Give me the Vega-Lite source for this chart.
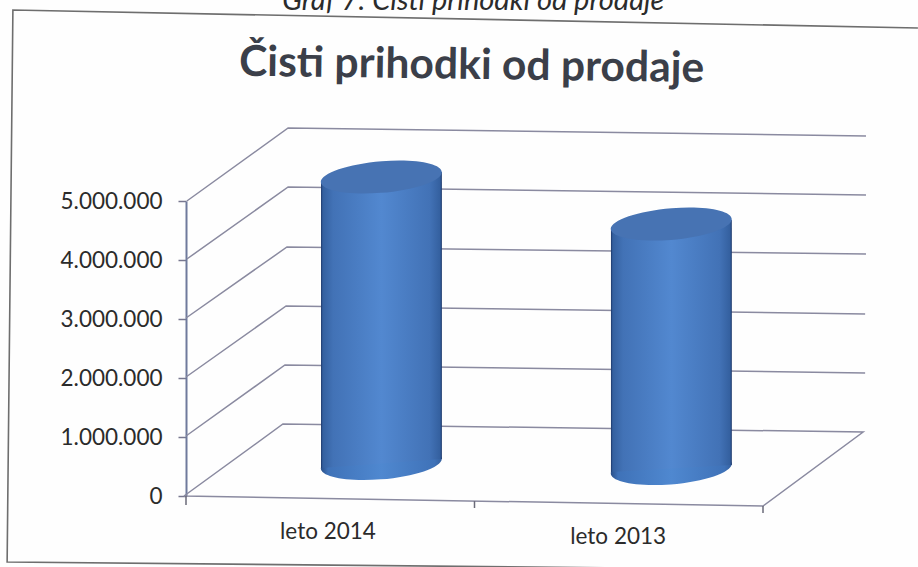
{
"$schema":"https://vega.github.io/schema/vega-lite/v6.json",
"width":577,"height":295,
"autosize":"none",
"padding":{"left":186,"top":201,"right":155,"bottom":71},
"background":"#fefefe",
"view":{"stroke":null},
"title":{"text":"Čisti prihodki od prodaje","font":"Lato","fontWeight":"bold","fontSize":42.6,"color":"#3b3f49","anchor":"middle","dx":-3,"offset":-141,"baseline":"alphabetic","angle":0.8},
"datasets":{
"crte":[
{"crta":"okvir","n":1,"x":2.537,"v":7932000},{"crta":"okvir","n":2,"x":-0.6,"v":8237000},{"crta":"okvir","n":3,"x":-0.62,"v":-1118600},{"crta":"okvir","n":4,"x":1.522,"v":-1220300}
],
"mreza":[
{"crta":"5M","n":1,"x":0.003,"v":5000000},{"crta":"5M","n":2,"x":0.354,"v":6237200},{"crta":"5M","n":3,"x":2.357,"v":6101600},
{"crta":"4M","n":1,"x":0.003,"v":4016900},{"crta":"4M","n":2,"x":0.354,"v":5237200},{"crta":"4M","n":3,"x":2.357,"v":5101600},
{"crta":"3M","n":1,"x":0,"v":3016900},{"crta":"3M","n":2,"x":0.35,"v":4220300},{"crta":"3M","n":3,"x":2.357,"v":4101700},
{"crta":"2M","n":1,"x":0,"v":2016900},{"crta":"2M","n":2,"x":0.347,"v":3220300},{"crta":"2M","n":3,"x":2.354,"v":3084700},
{"crta":"1M","n":1,"x":0,"v":1016900},{"crta":"1M","n":2,"x":0.343,"v":2220300},{"crta":"1M","n":3,"x":2.354,"v":2084700},
{"crta":"0","n":1,"x":-0.007,"v":0},{"crta":"0","n":2,"x":0.336,"v":1220300},{"crta":"0","n":3,"x":2.347,"v":1084700},{"crta":"0","n":4,"x":2,"v":-169500},{"crta":"0","n":5,"x":-0.007,"v":0}
],
"oznake":[
{"x":0,"v":0,"v2":-152500},{"x":1,"v":-84700,"v2":-203400},{"x":2,"v":-169500,"v2":-288100}
],
"valji":[
{"leto":"leto 2014","x":0.468,"v":5322000,"v2":474600},
{"leto":"leto 2014","x":0.887,"v":5492000,"v2":627100},
{"leto":"leto 2013","x":1.473,"v":4542000,"v2":406800},
{"leto":"leto 2013","x":1.892,"v":4678000,"v2":525400}
],
"dna":[{"leto":"leto 2014","x":0.677,"v":550800},{"leto":"leto 2013","x":1.682,"v":466000}],
"vrhovi":[{"leto":"leto 2014","x":0.677,"v":5406800},{"leto":"leto 2013","x":1.682,"v":4610000}],
"besedila":[{"t":"leto 2014","x":0.492,"v":-728800},{"t":"leto 2013","x":1.498,"v":-813500}],
"napis":[{"t":"Graf 7: Čisti prihodki od prodaje","x":0.996,"v":8237000}]
},
"encoding":{
"x":{"field":"x","type":"quantitative","scale":{"domain":[0,2],"nice":false,"zero":false},"axis":null},
"y":{"field":"v","type":"quantitative","scale":{"domain":[0,5000000],"nice":false,"zero":false},
"axis":{"title":null,"grid":false,"values":[0,1000000,2000000,3000000,4000000,5000000],"labelExpr":"replace(format(datum.value,','),/,/g,'.')","tickSize":8,"tickWidth":1.5,"tickColor":"#77778f","domainColor":"#6f7a9c","domainWidth":2,"labelFont":"Lato","labelFontSize":22.5,"labelColor":"#2b2b2b","labelPadding":16}}
},
"layer":[
{"data":{"name":"crte"},"mark":{"type":"line","color":"#6e6e6e","strokeWidth":1.6,"clip":false},"encoding":{"detail":{"field":"crta"},"order":{"field":"n","type":"quantitative"}}},
{"data":{"name":"mreza"},"mark":{"type":"line","color":"#8a8aa0","strokeWidth":1.5,"clip":false},"encoding":{"detail":{"field":"crta"},"order":{"field":"n","type":"quantitative"}}},
{"data":{"name":"oznake"},"mark":{"type":"rule","color":"#6a6a78","strokeWidth":1.5},"encoding":{"y2":{"field":"v2"}}},
{"data":{"name":"dna"},"mark":{"type":"point","filled":true,"opacity":1,"size":14641,"shape":"M-1,0.08 A1,0.26 -5 1 1 1,-0.08 A1,0.26 -5 1 1 -1,0.08 Z",
"fill":{"x1":0,"y1":0,"x2":1,"y2":0,"gradient":"linear","stops":[{"offset":0,"color":"#2a4f88"},{"offset":0.06,"color":"#3f72b8"},{"offset":0.5,"color":"#4f88d0"},{"offset":0.94,"color":"#3f72b8"},{"offset":1,"color":"#35609e"}]},"stroke":null}},
{"data":{"name":"valji"},"mark":{"type":"area","clip":false,"opacity":1,
"fill":{"x1":0,"y1":0,"x2":1,"y2":0,"gradient":"linear","stops":[{"offset":0,"color":"#1d3768"},{"offset":0.015,"color":"#34609f"},{"offset":0.1,"color":"#4272b6"},{"offset":0.5,"color":"#5288d0"},{"offset":0.9,"color":"#4272b6"},{"offset":0.985,"color":"#34609f"},{"offset":1,"color":"#1d3768"}]}},
"encoding":{"y2":{"field":"v2"},"detail":{"field":"leto"}}},
{"data":{"name":"vrhovi"},"mark":{"type":"point","filled":true,"opacity":1,"size":14641,"fill":"#4773b3","stroke":null,"shape":"M-1,0.08 A1,0.26 -5 1 1 1,-0.08 A1,0.26 -5 1 1 -1,0.08 Z"}},
{"data":{"name":"besedila"},"mark":{"type":"text","font":"Lato","fontSize":22.5,"color":"#2b2b2b","baseline":"alphabetic","align":"center"},"encoding":{"text":{"field":"t"}}},
{"data":{"name":"napis"},"mark":{"type":"text","font":"Lato","fontStyle":"italic","fontSize":29,"color":"#2b2b2b","baseline":"alphabetic","align":"center","clip":false},"encoding":{"text":{"field":"t"}}}
]
}
